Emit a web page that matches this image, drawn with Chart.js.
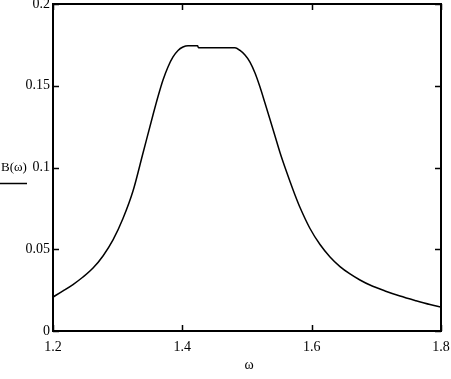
<!DOCTYPE html>
<html>
<head>
<meta charset="utf-8">
<script src="https://cdn.jsdelivr.net/npm/chart.js@4.4.0/dist/chart.umd.min.js"></script>
<style>
html,body{margin:0;padding:0;background:#fff;}
#wrap{width:451px;height:379px;position:relative;}
</style>
</head>
<body>
<div id="wrap"><canvas id="c" width="451" height="379"></canvas></div>
<script>
const omega = [1.2000,1.2155,1.2309,1.2464,1.2619,1.2773,1.2928,1.3082,1.3237,1.3392,1.3546,1.3624,1.3701,1.3778,1.3856,1.3933,1.4010,1.4088,1.4235,1.4250,1.4814,1.4892,1.4969,1.5046,1.5124,1.5201,1.5278,1.5356,1.5433,1.5510,1.5588,1.5665,1.5742,1.5820,1.5974,1.6129,1.6284,1.6438,1.6593,1.6747,1.6902,1.7134,1.7366,1.7598,1.7830,1.8000];
const B = [0.0208,0.0245,0.0284,0.0330,0.0385,0.0459,0.0557,0.0688,0.0856,0.1089,0.1321,0.1434,0.1535,0.1615,0.1676,0.1716,0.1737,0.1745,0.1745,0.1733,0.1733,0.1716,0.1688,0.1645,0.1578,0.1492,0.1394,0.1294,0.1193,0.1092,0.1000,0.0914,0.0832,0.0755,0.0627,0.0529,0.0453,0.0394,0.0349,0.0312,0.0281,0.0245,0.0214,0.0187,0.0162,0.0147];
const xTicks = [1.2,1.4,1.6,1.8];
const xTickLabels = ['1.2','1.4','1.6','1.8'];
const yTicks = [0,0.05,0.1,0.15,0.2];
const yTickLabels = ['0','0.05','0.1','0.15','0.2'];
const xTitle = 'ω';
const yTitle = 'B(ω)';

const FONT = "'Liberation Serif','DejaVu Serif',serif";

const framePlugin = {
  id: 'frame',
  afterDraw(chart) {
    const ctx = chart.ctx, a = chart.chartArea;
    const xs = chart.scales.x, ys = chart.scales.y;
    ctx.save();
    ctx.strokeStyle = '#000';
    ctx.lineWidth = 2;
    ctx.strokeRect(a.left, a.top, a.right - a.left, a.bottom - a.top);
    ctx.lineWidth = 1.5;
    ctx.beginPath();
    xTicks.forEach(v => {
      const p = Math.round(xs.getPixelForValue(v)) + 0.5;
      ctx.moveTo(p, a.bottom); ctx.lineTo(p, a.bottom - 6);
      ctx.moveTo(p, a.top); ctx.lineTo(p, a.top + 6);
    });
    yTicks.forEach(v => {
      const p = Math.round(ys.getPixelForValue(v)) + 0.5;
      ctx.moveTo(a.left, p); ctx.lineTo(a.left + 6, p);
      ctx.moveTo(a.right, p); ctx.lineTo(a.right - 6, p);
    });
    ctx.stroke();
    ctx.fillStyle = '#000';
    ctx.font = '14px ' + FONT;
    ctx.textAlign = 'center';
    ctx.textBaseline = 'middle';
    ctx.fillText(xTitle, 249, 365);
    ctx.textAlign = 'left';
    ctx.font = '13px ' + FONT;
    const ty = ys.getPixelForValue(0.1);
    ctx.fillText(yTitle, 1, ty);
    ctx.lineWidth = 1.5;
    ctx.beginPath();
    ctx.moveTo(0, 183.5); ctx.lineTo(27, 183.5);
    ctx.stroke();
    ctx.restore();
  }
};

new Chart(document.getElementById('c'), {
  type: 'line',
  data: {
    datasets: [{
      data: omega.map((x, i) => ({x: x, y: B[i]})),
      borderColor: '#000',
      borderWidth: 1.5,
      pointRadius: 0,
      fill: false,
      cubicInterpolationMode: 'monotone'
    }]
  },
  options: {
    responsive: false,
    animation: false,
    events: [],
    layout: { padding: { top: 4, right: 10, left: 0, bottom: 0 } },
    plugins: { legend: { display: false }, tooltip: { enabled: false } },
    scales: {
      x: {
        type: 'linear', min: 1.2, max: 1.8,
        afterBuildTicks(s) { s.ticks = xTicks.map(v => ({value: v})); },
        afterFit(s) { s.height = 48; s.paddingLeft = 0; s.paddingRight = 0; },
        grid: { display: false, drawTicks: false },
        border: { display: false },
        ticks: {
          color: '#000', padding: 8, maxRotation: 0, autoSkip: false,
          font: { family: FONT, size: 14 },
          callback: (v) => { const i = xTicks.indexOf(v); return i >= 0 ? xTickLabels[i] : ''; }
        }
      },
      y: {
        type: 'linear', min: 0, max: 0.2,
        afterBuildTicks(s) { s.ticks = yTicks.map(v => ({value: v})); },
        afterFit(s) { s.width = 53; s.paddingTop = 0; s.paddingBottom = 0; },
        grid: { display: false, drawTicks: false },
        border: { display: false },
        ticks: {
          color: '#000', padding: 3, autoSkip: false,
          font: { family: FONT, size: 14 },
          callback: (v) => { const i = yTicks.indexOf(v); return i >= 0 ? yTickLabels[i] : ''; }
        }
      }
    }
  },
  plugins: [framePlugin]
});
</script>
</body>
</html>
